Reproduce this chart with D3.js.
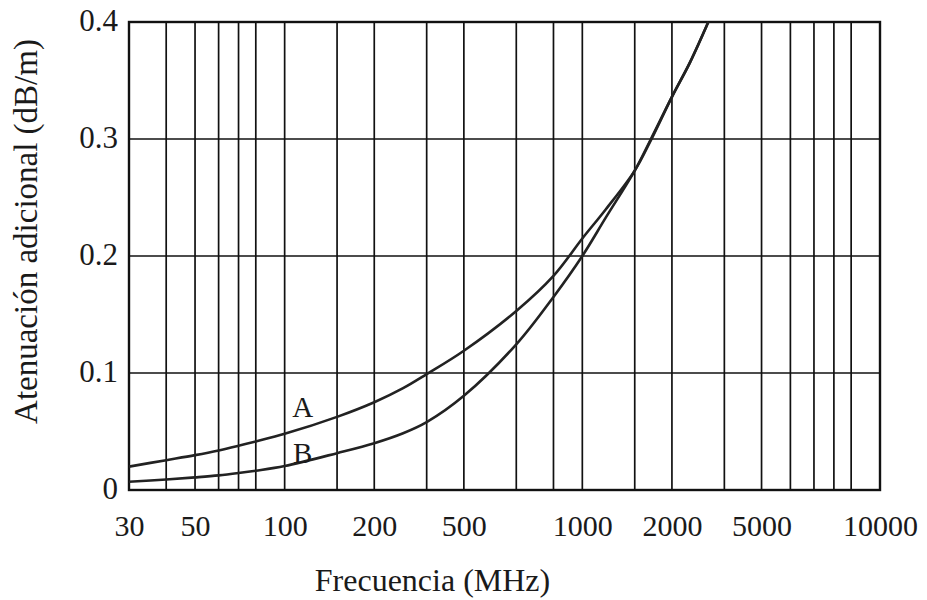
<!DOCTYPE html>
<html>
<head>
<meta charset="utf-8">
<script src="https://cdnjs.cloudflare.com/ajax/libs/d3/7.8.5/d3.min.js"></script>
<style>
  body { margin: 0; background: #fff; }
  text { font-family: "Liberation Serif", "Times New Roman", serif; fill: #1a1a1a; }
</style>
</head>
<body>
<div class="center"></div>
<script>
var freqs = [30, 40, 50, 60, 70, 80, 100, 150, 200, 250, 300, 400, 600, 800, 1000, 1200, 1500, 1700, 2000, 2300, 2650];
// curve A and curve B (dB/m)
var curveA = [0.020, 0.0255, 0.0298, 0.0338, 0.0378, 0.0415, 0.048, 0.0625, 0.075, 0.087, 0.099, 0.119, 0.153, 0.183, 0.215, 0.240, 0.273, 0.299, 0.336, 0.3655, 0.400];
var curveB = [0.007, 0.009, 0.0108, 0.0125, 0.0145, 0.0165, 0.0205, 0.0315, 0.040, 0.0485, 0.058, 0.0805, 0.1245, 0.165, 0.200, 0.233, 0.273, 0.300, 0.336, 0.3655, 0.400];

// vertical grid lines of the original sheet
var gridFreqs = [30, 40, 50, 60, 70, 80, 100, 150, 200, 300, 400, 600, 800, 1000, 1500, 2000, 3000, 4000, 5000, 6000, 7000, 8000, 10000];
// tick labels as printed (the "500" and "5000" sit on the 400 / 4000 lines in the original)
var xTickValues = [30, 50, 100, 200, 400, 1000, 2000, 4000, 10000];
var xTickLabels = ["30", "50", "100", "200", "500", "1000", "2000", "5000", "10000"];
var yTickValues = [0, 0.1, 0.2, 0.3, 0.4];
var yTickLabels = ["0", "0.1", "0.2", "0.3", "0.4"];

// curve names and where they are written
var curveNames = ["A", "B"];
var nameFreqs = [115, 115];
var nameValues = [0.062, 0.0235];

var margin = {top: 22, right: 47, bottom: 110, left: 129},
    width = 927 - margin.left - margin.right,
    height = 600 - margin.top - margin.bottom;

var x = d3.scaleLog().domain([30, 10000]).range([0, width]);
var y = d3.scaleLinear().domain([0, 0.4]).range([height, 0]);

var svg = d3.select(".center").append("svg")
    .attr("width", width + margin.left + margin.right)
    .attr("height", height + margin.top + margin.bottom)
    .append("g")
    .attr("transform", "translate(" + margin.left + "," + margin.top + ")");

// grid
svg.selectAll(".vgrid")
    .data(gridFreqs)
    .enter().append("line")
    .attr("class", "vgrid")
    .attr("x1", function(d) { return x(d); })
    .attr("x2", function(d) { return x(d); })
    .attr("y1", 0)
    .attr("y2", height)
    .style("stroke", "#111")
    .style("stroke-width", 1.7);

svg.selectAll(".hgrid")
    .data(yTickValues)
    .enter().append("line")
    .attr("class", "hgrid")
    .attr("x1", 0)
    .attr("x2", width)
    .attr("y1", function(d) { return y(d); })
    .attr("y2", function(d) { return y(d); })
    .style("stroke", "#111")
    .style("stroke-width", 1.7);

// frame
svg.append("rect")
    .attr("width", width)
    .attr("height", height)
    .style("fill", "none")
    .style("stroke", "#111")
    .style("stroke-width", 2.4);

// curves
var line = d3.line()
    .x(function(d) { return x(d[0]); })
    .y(function(d) { return y(d[1]); })
    .curve(d3.curveCatmullRom.alpha(0.5));

[curveA, curveB].forEach(function(vals) {
    svg.append("path")
        .datum(freqs.map(function(f, i) { return [f, vals[i]]; }))
        .attr("d", line)
        .style("fill", "none")
        .style("stroke", "#222")
        .style("stroke-width", 2.6);
});

// curve names
svg.selectAll(".cname")
    .data(curveNames)
    .enter().append("text")
    .attr("class", "cname")
    .attr("x", function(d, i) { return x(nameFreqs[i]); })
    .attr("y", function(d, i) { return y(nameValues[i]); })
    .attr("text-anchor", "middle")
    .style("font-size", "29px")
    .text(function(d) { return d; });

// X axis labels
var xAxis = svg.append("g")
    .attr("transform", "translate(0," + height + ")")
    .call(d3.axisBottom(x)
        .tickValues(xTickValues)
        .tickSize(0)
        .tickFormat(function(d, i) { return xTickLabels[i]; }));
xAxis.select(".domain").remove();
xAxis.selectAll("text")
    .attr("y", 46)
    .attr("dy", 0)
    .style("font-size", "30px")
    .style("font-family", "Liberation Serif, serif")
    .style("fill", "#1a1a1a");

// Y axis labels
var yAxis = svg.append("g")
    .call(d3.axisLeft(y)
        .tickValues(yTickValues)
        .tickSize(0)
        .tickPadding(11)
        .tickFormat(function(d, i) { return yTickLabels[i]; }));
yAxis.select(".domain").remove();
yAxis.selectAll("text")
    .attr("dy", "0.26em")
    .style("font-size", "31px")
    .style("font-family", "Liberation Serif, serif")
    .style("fill", "#1a1a1a");

// axis titles
svg.append("text")
    .attr("transform", "translate(" + (width / 2 - 72) + " ," + (height + 101) + ")")
    .style("text-anchor", "middle")
    .style("font-size", "32px")
    .text("Frecuencia (MHz)");

svg.append("text")
    .attr("transform", "rotate(-90)")
    .attr("x", -209.5)
    .attr("y", -92.5)
    .style("text-anchor", "middle")
    .style("font-size", "33px")
    .text("Atenuación adicional (dB/m)");
</script>
</body>
</html>
